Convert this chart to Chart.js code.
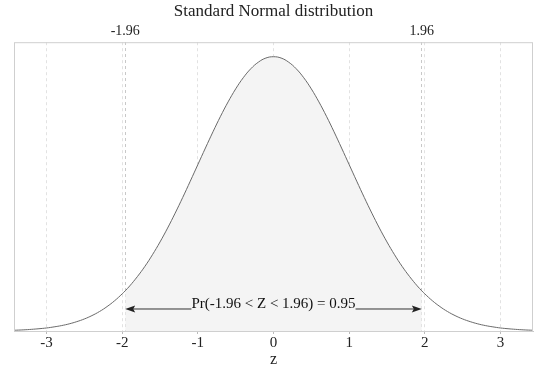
<!DOCTYPE html>
<html>
<head>
<meta charset="utf-8">
<script src="https://cdn.jsdelivr.net/npm/chart.js@4/dist/chart.umd.min.js"></script>
<style>
  body { margin: 0; background: #fff; }
  #wrap { width: 549px; height: 368px; }
</style>
</head>
<body>
<div id="wrap"><canvas id="normalChart"></canvas></div>
<script>
// z values and density
const zValues = [-3.43, -3.4, -3.3, -3.2, -3.1, -3.0, -2.9, -2.8, -2.7, -2.6, -2.5, -2.4, -2.3, -2.2, -2.1, -2.0,
  -1.96, -1.9, -1.8, -1.7, -1.6, -1.5, -1.4, -1.3, -1.2, -1.1, -1.0, -0.9, -0.8, -0.7, -0.6, -0.5, -0.4, -0.3, -0.2, -0.1,
  0.0, 0.1, 0.2, 0.3, 0.4, 0.5, 0.6, 0.7, 0.8, 0.9, 1.0, 1.1, 1.2, 1.3, 1.4, 1.5, 1.6, 1.7, 1.8, 1.9, 1.96,
  2.0, 2.1, 2.2, 2.3, 2.4, 2.5, 2.6, 2.7, 2.8, 2.9, 3.0, 3.1, 3.2, 3.3, 3.4, 3.43];
const density = [0.0011, 0.0012, 0.0017, 0.0024, 0.0033, 0.0044, 0.0060, 0.0079, 0.0104, 0.0136, 0.0175, 0.0224, 0.0283, 0.0355, 0.0440, 0.0540,
  0.0584, 0.0656, 0.0790, 0.0940, 0.1109, 0.1295, 0.1497, 0.1714, 0.1942, 0.2179, 0.2420, 0.2661, 0.2897, 0.3123, 0.3332, 0.3521, 0.3683, 0.3814, 0.3910, 0.3970,
  0.3989, 0.3970, 0.3910, 0.3814, 0.3683, 0.3521, 0.3332, 0.3123, 0.2897, 0.2661, 0.2420, 0.2179, 0.1942, 0.1714, 0.1497, 0.1295, 0.1109, 0.0940, 0.0790, 0.0656, 0.0584,
  0.0540, 0.0440, 0.0355, 0.0283, 0.0224, 0.0175, 0.0136, 0.0104, 0.0079, 0.0060, 0.0044, 0.0033, 0.0024, 0.0017, 0.0012, 0.0011];
const xTicks = [-3, -2, -1, 0, 1, 2, 3];
const criticalValues = [-1.96, 1.96];
const probLabel = 'Pr(-1.96 < Z < 1.96) = 0.95';

const curve = zValues.map((z, i) => ({ x: z, y: density[i] }));
const shaded = curve.filter(p => p.x >= criticalValues[0] && p.x <= criticalValues[1]);

const serif = '"Liberation Serif", "DejaVu Serif", serif';

// frame round the plot area + arrow annotation
const extras = {
  id: 'extras',
  afterDatasetsDraw(chart) {
    const { ctx, chartArea: a, scales: { x, y } } = chart;
    ctx.save();
    // arrow
    const yPix = y.getPixelForValue(0.032);
    const x1 = x.getPixelForValue(criticalValues[0]);
    const x2 = x.getPixelForValue(criticalValues[1]);
    const xc = x.getPixelForValue(0);
    ctx.font = '15px ' + serif;
    ctx.fillStyle = '#111';
    ctx.textAlign = 'center';
    ctx.textBaseline = 'bottom';
    const tw = ctx.measureText(probLabel).width;
    ctx.fillText(probLabel, xc, yPix + 3);
    ctx.strokeStyle = '#333';
    ctx.lineWidth = 1;
    ctx.beginPath();
    ctx.moveTo(x1 + 6, yPix); ctx.lineTo(xc - tw / 2, yPix);
    ctx.moveTo(xc + tw / 2, yPix); ctx.lineTo(x2 - 6, yPix);
    ctx.stroke();
    ctx.fillStyle = '#222';
    ctx.beginPath();
    ctx.moveTo(x1, yPix); ctx.lineTo(x1 + 10, yPix - 3.5); ctx.lineTo(x1 + 8, yPix); ctx.lineTo(x1 + 10, yPix + 3.5); ctx.closePath();
    ctx.moveTo(x2, yPix); ctx.lineTo(x2 - 10, yPix - 3.5); ctx.lineTo(x2 - 8, yPix); ctx.lineTo(x2 - 10, yPix + 3.5); ctx.closePath();
    ctx.fill();
    // frame
    ctx.strokeStyle = '#cfcfcf';
    ctx.strokeRect(a.left + 0.5, a.top + 0.5, a.right - a.left - 1, a.bottom - a.top);
    ctx.restore();
  }
};

new Chart(document.getElementById('normalChart'), {
  type: 'line',
  data: {
    datasets: [
      {
        data: curve,
        borderColor: '#6a6a6a',
        borderWidth: 1,
        pointRadius: 0,
        tension: 0.4,
        fill: false
      },
      {
        data: shaded,
        borderWidth: 0,
        borderColor: 'rgba(0,0,0,0)',
        backgroundColor: '#f4f4f4',
        pointRadius: 0,
        tension: 0.4,
        fill: 'origin'
      }
    ]
  },
  options: {
    responsive: true,
    maintainAspectRatio: false,
    animation: false,
    layout: { padding: { left: 14, right: 16, top: 0, bottom: 0 } },
    plugins: {
      legend: { display: false },
      tooltip: { enabled: false },
      title: {
        display: true,
        text: 'Standard Normal distribution',
        color: '#222',
        font: { family: serif, size: 17, weight: 'normal' },
        padding: { top: 1, bottom: 0 }
      }
    },
    scales: {
      x: {
        type: 'linear',
        position: 'bottom',
        min: -3.43,
        max: 3.43,
        afterBuildTicks: s => { s.ticks = xTicks.map(v => ({ value: v })); },
        ticks: { color: '#222', font: { family: serif, size: 15 }, padding: 0 },
        grid: { color: '#e2e2e2', tickColor: '#bbb', tickLength: 3, drawOnChartArea: true },
        border: { color: '#c8c8c8', dash: [3, 3] },
        title: { display: true, text: 'z', color: '#222', font: { family: serif, size: 16, lineHeight: 1 }, padding: { top: 0, bottom: 0 } }
      },
      x2: {
        type: 'linear',
        position: 'top',
        min: -3.43,
        max: 3.43,
        afterBuildTicks: s => { s.ticks = criticalValues.map(v => ({ value: v })); },
        ticks: { color: '#222', font: { family: serif, size: 14 }, padding: 2, callback: v => v.toFixed(2) },
        grid: { color: '#c8c8c8', drawTicks: false },
        border: { display: false, dash: [3, 3] }
      },
      y: {
        display: false,
        min: 0,
        max: 0.42
      }
    }
  },
  plugins: [extras]
});
</script>
</body>
</html>
